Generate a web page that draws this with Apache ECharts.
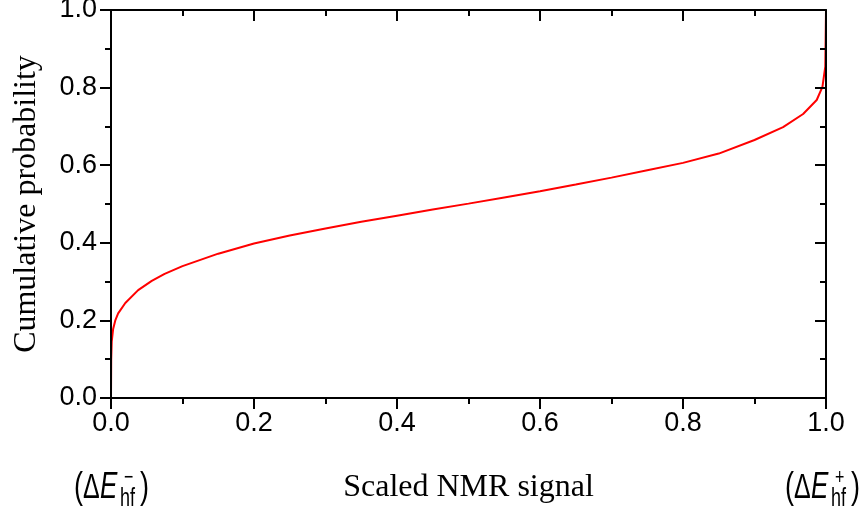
<!DOCTYPE html>
<html>
<head>
<meta charset="utf-8">
<script src="https://cdn.jsdelivr.net/npm/echarts@6/dist/echarts.min.js"></script>
<style>
  html, body { margin: 0; padding: 0; background: #fff; }
  #main { width: 866px; height: 512px; }
</style>
</head>
<body>
<div id="main"></div>
<script>
// values
var signal = [0, 0.0003, 0.001, 0.003, 0.006, 0.01, 0.02, 0.038, 0.057, 0.075,
  0.1, 0.15, 0.2, 0.25, 0.3, 0.35, 0.4, 0.45, 0.5, 0.55, 0.6, 0.65, 0.7, 0.75,
  0.8, 0.85, 0.9, 0.94, 0.968, 0.987, 0.995, 0.999, 1];
var prob = [0, 0.1, 0.145, 0.178, 0.2, 0.218, 0.245, 0.278, 0.302, 0.32,
  0.34, 0.372, 0.398, 0.419, 0.437, 0.454, 0.47, 0.486, 0.501, 0.517, 0.533, 0.55, 0.568, 0.587,
  0.606, 0.63, 0.665, 0.698, 0.732, 0.768, 0.802, 0.854, 1];
var tickFmt = function (v) { return v.toFixed(1); };

var pts = [];
for (var i = 0; i < signal.length; i++) pts.push([signal[i], prob[i]]);

var chart = echarts.init(document.getElementById('main'));

var sans = 'Liberation Sans';
var serif = 'Liberation Serif';
var black = { color: '#000', width: 2 };

function mkAxis(pos, main) {
  var a = {
    type: 'value', min: 0, max: 1, interval: 0.2, position: pos, z: 5,
    axisLine: { show: true, onZero: false, lineStyle: black },
    axisTick: { show: true, inside: !main, length: 11, lineStyle: black },
    minorTick: { show: true, splitNumber: 2, length: 6, lineStyle: black },
    axisLabel: { show: main, fontFamily: sans, fontSize: 27, color: '#000',
      margin: (pos === 'left' ? 14 : 12), formatter: tickFmt },
    splitLine: { show: false }
  };
  return a;
}

var xb = mkAxis('bottom', true);
xb.name = 'Scaled NMR signal';
xb.nameLocation = 'middle';
xb.nameGap = 74;
xb.nameTextStyle = { fontFamily: serif, fontSize: 32, color: '#000' };
var yl = mkAxis('left', true);
yl.name = 'Cumulative probability';
yl.nameLocation = 'middle';
yl.nameGap = 68;
yl.nameTextStyle = { fontFamily: serif, fontSize: 32, color: '#000' };

function txt(x, y, s, font, sy) {
  return { type: 'text', x: x, y: y, scaleY: sy, z: 10,
    style: { text: s, font: font, fill: '#000', verticalAlign: 'middle', align: 'left' } };
}
function edgeLabel(x0, sign) {
  return [
    txt(x0, 488, '(', '27px ' + sans, 1.35),
    txt(x0 + 9, 488, '\u0394', '25px ' + sans, 1.4),
    txt(x0 + 26, 488, 'E', 'italic 26px ' + sans, 1.4),
    txt(x0 + 46, 499, 'hf', '18px ' + sans, 1.4),
    txt(x0 + 50, 478, sign, '16px ' + sans, 1.4),
    txt(x0 + 66, 488, ')', '27px ' + sans, 1.35)
  ];
}

var option = {
  animation: false,
  grid: { left: 111, right: 40, top: 10, bottom: 114, outerBoundsMode: 'none', containLabel: false },
  xAxis: [xb, mkAxis('top', false)],
  yAxis: [yl, mkAxis('right', false)],
  graphic: edgeLabel(74, '\u2212').concat(edgeLabel(785, '+')),
  series: [{
    type: 'line', data: pts, showSymbol: false, smooth: false, z: 2,
    lineStyle: { color: '#ff0000', width: 2 }
  }]
};

chart.setOption(option);
</script>
</body>
</html>
